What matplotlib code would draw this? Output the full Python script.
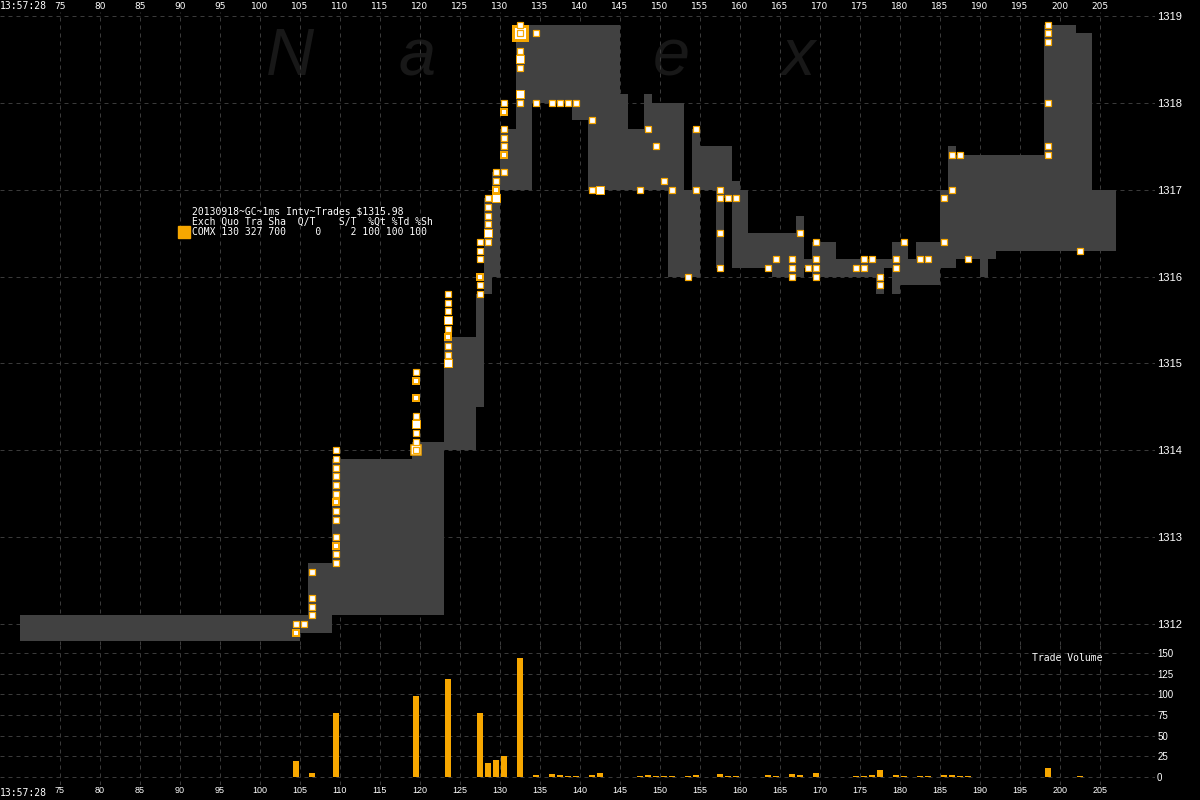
import matplotlib.pyplot as plt
from matplotlib.patches import Rectangle

# quote band (bid / ask), one value per segment between edges (seconds)
band_edges = [70, 105, 106, 109, 119, 123, 127, 128, 129, 130, 132, 134, 139, 141,
              145, 146, 148, 149, 151, 153, 154, 155, 157, 158, 159, 160, 161, 164,
              167, 168, 169, 172, 177, 178, 179, 180, 181, 182, 185, 186, 187, 190,
              191, 192, 198, 202, 204, 207]
band_ask = [1312.1, 1312.1, 1312.7, 1313.9, 1314.1, 1315.3, 1315.8, 1316.9, 1317.2, 1317.7,
            1318.9, 1318.9, 1318.9, 1318.9, 1318.1, 1317.7, 1318.1, 1318.0, 1318.0, 1317.0,
            1317.7, 1317.5, 1317.5, 1317.5, 1317.1, 1317.0, 1316.5, 1316.5, 1316.7, 1316.2,
            1316.4, 1316.2, 1316.2, 1316.2, 1316.4, 1316.4, 1316.2, 1316.4, 1317.0, 1317.5,
            1317.4, 1317.4, 1317.4, 1317.4, 1318.9, 1318.8, 1317.0]
band_bid = [1311.8, 1311.9, 1311.9, 1312.1, 1312.1, 1314.0, 1314.5, 1315.8, 1316.0, 1317.0,
            1317.0, 1318.0, 1317.8, 1317.0, 1317.0, 1317.0, 1317.0, 1317.0, 1316.0, 1316.0,
            1316.0, 1317.0, 1316.1, 1316.9, 1316.1, 1316.1, 1316.1, 1316.0, 1316.0, 1316.1,
            1316.0, 1316.0, 1315.8, 1316.1, 1315.8, 1315.9, 1315.9, 1315.9, 1316.1, 1316.1,
            1316.2, 1316.0, 1316.2, 1316.3, 1316.3, 1316.3, 1316.3]

# trades: time bin, price, size
trade_x = [104.5, 104.5, 105.5,
           106.5, 106.5, 106.5, 106.5,
           109.5, 109.5, 109.5, 109.5, 109.5, 109.5, 109.5, 109.5, 109.5, 109.5, 109.5, 109.5, 109.5,
           119.5, 119.5, 119.5, 119.5, 119.5, 119.5, 119.5, 119.5, 119.5,
           123.5, 123.5, 123.5, 123.5, 123.5, 123.5, 123.5, 123.5, 123.5,
           127.5, 127.5, 127.5, 127.5, 127.5, 127.5,
           128.5, 128.5, 128.5, 128.5, 128.5, 128.5,
           129.5, 129.5, 129.5, 129.5,
           130.5, 130.5, 130.5, 130.5, 130.5, 130.5, 130.5,
           132.5, 132.5, 132.5, 132.5, 132.5, 132.5, 132.5, 132.5,
           134.5, 134.5, 136.5, 137.5, 138.5, 139.5,
           141.5, 141.5, 142.5, 147.5, 148.5, 149.5, 150.5, 151.5, 153.5, 154.5, 154.5,
           157.5, 157.5, 157.5, 157.5, 158.5, 159.5,
           163.5, 164.5, 166.5, 166.5, 166.5, 167.5, 168.5,
           169.5, 169.5, 169.5, 169.5,
           174.5, 175.5, 175.5, 176.5, 177.5, 177.5, 179.5, 179.5, 180.5, 182.5, 183.5,
           185.5, 185.5, 186.5, 186.5, 187.5, 188.5,
           198.5, 198.5, 198.5, 198.5, 198.5, 198.5, 202.5]
trade_px = [1312.0, 1311.9, 1312.0,
            1312.6, 1312.3, 1312.2, 1312.1,
            1314.0, 1313.9, 1313.8, 1313.7, 1313.6, 1313.5, 1313.4, 1313.3, 1313.2, 1313.0, 1312.9, 1312.8, 1312.7,
            1314.9, 1314.8, 1314.6, 1314.4, 1314.3, 1314.2, 1314.1, 1314.0, 1314.0,
            1315.8, 1315.7, 1315.6, 1315.5, 1315.4, 1315.3, 1315.2, 1315.1, 1315.0,
            1316.4, 1316.3, 1316.2, 1316.0, 1315.9, 1315.8,
            1316.9, 1316.8, 1316.7, 1316.6, 1316.5, 1316.4,
            1317.2, 1317.1, 1317.0, 1316.9,
            1318.0, 1317.9, 1317.7, 1317.6, 1317.5, 1317.4, 1317.2,
            1318.9, 1318.8, 1318.8, 1318.6, 1318.5, 1318.4, 1318.1, 1318.0,
            1318.8, 1318.0, 1318.0, 1318.0, 1318.0, 1318.0,
            1317.8, 1317.0, 1317.0, 1317.0, 1317.7, 1317.5, 1317.1, 1317.0, 1316.0, 1317.7, 1317.0,
            1317.0, 1316.9, 1316.5, 1316.1, 1316.9, 1316.9,
            1316.1, 1316.2, 1316.2, 1316.1, 1316.0, 1316.5, 1316.1,
            1316.4, 1316.2, 1316.1, 1316.0,
            1316.1, 1316.2, 1316.1, 1316.2, 1316.0, 1315.9, 1316.2, 1316.1, 1316.4, 1316.2, 1316.2,
            1316.9, 1316.4, 1317.4, 1317.0, 1317.4, 1316.2,
            1318.9, 1318.8, 1318.7, 1318.0, 1317.5, 1317.4, 1316.3]
trade_sz = [1, 10, 1,
            1, 1, 1, 1,
            1, 1, 1, 1, 1, 1, 10, 1, 1, 1, 10, 1, 1,
            1, 10, 10, 1, 5, 1, 1, 20, 1,
            1, 1, 1, 5, 1, 10, 1, 1, 5,
            1, 1, 1, 10, 1, 1,
            1, 1, 1, 1, 5, 1,
            1, 1, 10, 5,
            1, 10, 1, 1, 1, 10, 1,
            1, 50, 1, 1, 5, 1, 5, 1,
            1, 1, 1, 1, 1, 1,
            1, 1, 5, 1, 1, 1, 1, 1, 1, 1, 1,
            1, 1, 1, 1, 1, 1,
            1, 1, 1, 1, 1, 1, 1,
            1, 1, 1, 1,
            1, 1, 1, 1, 1, 1, 1, 1, 1, 1, 1,
            1, 1, 1, 1, 1, 1,
            1, 1, 1, 1, 1, 1, 1]

# trade volume per second
vol_x = [104.5, 106.5, 109.5, 119.5, 123.5, 127.5, 128.5, 129.5, 130.5, 132.5,
         134.5, 136.5, 137.5, 138.5, 139.5, 141.5, 142.5, 147.5, 148.5, 149.5,
         150.5, 151.5, 153.5, 154.5, 157.5, 158.5, 159.5, 163.5, 164.5, 166.5,
         167.5, 169.5, 174.5, 175.5, 176.5, 177.5, 179.5, 180.5, 182.5, 183.5,
         185.5, 186.5, 187.5, 188.5, 198.5, 202.5]
vol_qty = [19, 5, 77, 98, 118, 78, 17, 21, 25, 144,
           3, 4, 2, 1, 1, 3, 5, 1, 2, 1,
           1, 1, 1, 2, 4, 1, 1, 2, 1, 4,
           2, 5, 1, 1, 2, 9, 2, 1, 1, 1,
           3, 2, 1, 1, 11, 1]

x_ticks = list(range(75, 206, 5))
price_ticks = [1312, 1313, 1314, 1315, 1316, 1317, 1318, 1319]
vol_ticks = [0, 25, 50, 75, 100, 125, 150]
legend_lines = ["20130918~GC~1ms Intv~Trades $1315.98",
                "Exch Quo Tra Sha  Q/T    S/T  %Qt %Td %Sh",
                "COMX 130 327 700     0     2 100 100 100"]

ORANGE = '#F7A700'
BAND = '#414141'
GRID = '#3a3a3a'
PX = 72 / 100  # points per pixel


def marker_style(q):
    # marker size / edge width in pixels by trade size
    if q >= 50:
        return 14, 3
    if q >= 20:
        return 10.5, 1.5
    if q >= 10:
        return 6.5, 2
    if q >= 5:
        return 7.5, 1
    return 5.5, 1.2


fig = plt.figure(figsize=(12, 8), dpi=100, facecolor='black')
ax = fig.add_axes([0, 155 / 800, 1155 / 1200, 633 / 800], facecolor='black')
axv = fig.add_axes([0, 15 / 800, 1155 / 1200, 140 / 800], facecolor='black')

for a in (ax, axv):
    a.set_xlim(67.5, 67.5 + 1155 / 8)
    a.set_xticks(x_ticks)
    for s in a.spines.values():
        s.set_visible(False)
    a.set_axisbelow(True)
    a.grid(True, color=GRID, lw=1 * PX, ls=(0, (4, 4)))
    a.yaxis.tick_right()
    a.tick_params(length=0, pad=1.5, labelcolor='white')
    for lab in a.get_xticklabels() + a.get_yticklabels():
        lab.set_family('Liberation Sans')

ax.set_ylim(1311.758, 1319.046)
ax.set_yticks(price_ticks)
ax.xaxis.tick_top()
ax.tick_params(axis='x', labelsize=6.5, pad=1)
ax.tick_params(axis='y', labelsize=8)

axv.set_ylim(-9.7, 159.7)
axv.set_yticks(vol_ticks)
axv.tick_params(axis='x', labelsize=6.5, pad=1)
axv.tick_params(axis='y', labelsize=7)

# watermark
for i, ch in enumerate("Nanex"):
    ax.text((290 + 127 * i) / 1155, 0.9, ch, transform=ax.transAxes, ha='center',
            va='baseline', fontsize=48, style='italic', family='Liberation Sans',
            color='#181818', zorder=0.5)

# quote band
ax.fill_between(band_edges, band_bid + band_bid[-1:], band_ask + band_ask[-1:],
                step='post', color=BAND, lw=0, zorder=2)

# trades, bigger first so small ones stay on top
order = sorted(range(len(trade_x)), key=lambda i: -trade_sz[i])
for i in order:
    ms, mew = marker_style(trade_sz[i])
    ax.plot(trade_x[i], trade_px[i], ls='none', marker='s', ms=ms * PX, mew=mew * PX,
            mec=ORANGE, mfc='white', zorder=3)

# volume
axv.bar(vol_x, vol_qty, width=0.85, color=ORANGE, zorder=3)
axv.text(1032 / 1155, 0.91, 'Trade Volume', transform=axv.transAxes, ha='left',
         va='center', fontsize=7, family='DejaVu Sans Mono', color='white')

# time labels
fig.text(0.0, 1 - 6 / 800, '13:57:28', ha='left', va='center', fontsize=7,
         family='DejaVu Sans Mono', color='white')
fig.text(0.0, 1 - 793 / 800, '13:57:28', ha='left', va='center', fontsize=7,
         family='DejaVu Sans Mono', color='white')

# legend block
for k, line in enumerate(legend_lines):
    fig.text(192 / 1200, 1 - (212 + 10 * k) / 800, line, ha='left', va='center',
             fontsize=7, family='DejaVu Sans Mono', color='white')
fig.patches.append(Rectangle((178 / 1200, 1 - 238 / 800), 12 / 1200, 12 / 800,
                             transform=fig.transFigure, color=ORANGE))

fig.savefig('out.png', dpi=100, facecolor='black')
